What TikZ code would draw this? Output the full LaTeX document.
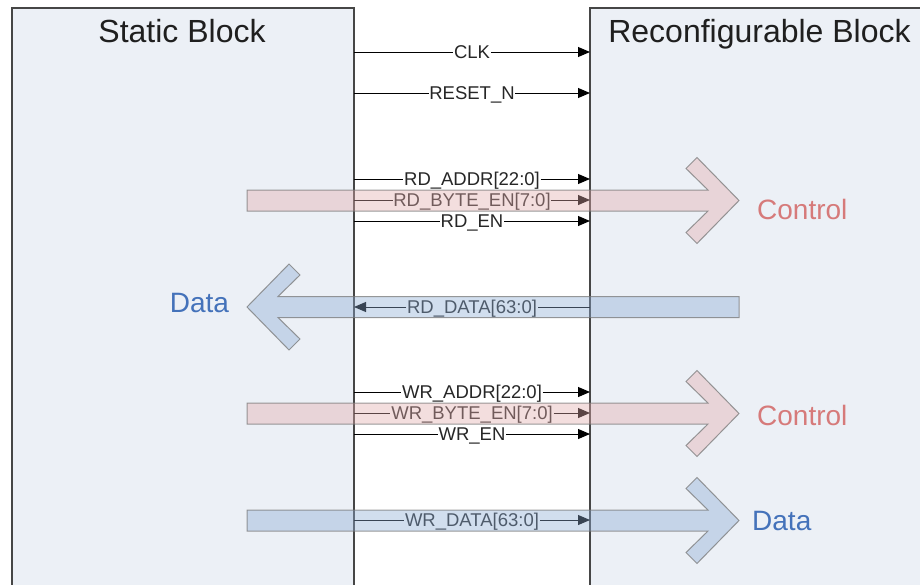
\documentclass[tikz,border=0pt]{standalone}
\usepackage{fontspec}
\setmainfont{Liberation Sans}
\usetikzlibrary{arrows.meta,calc}

\definecolor{blockfill}{RGB}{236,240,246}
\definecolor{blockline}{RGB}{70,70,70}
\definecolor{ctrlfill}{RGB}{226,172,172}
\definecolor{datafill}{RGB}{140,172,212}
\definecolor{ctrltext}{RGB}{214,122,122}
\definecolor{datatext}{RGB}{68,114,186}
\definecolor{bandline}{RGB}{120,120,120}

\begin{document}
\begin{tikzpicture}[x=1pt,y=-1pt,
  block/.style={fill=blockfill,draw=blockline,line width=1.3pt},
  title/.style={font=\fontsize{32}{36}\selectfont,text=black!88,inner sep=0pt},
  sig/.style={line width=1pt,draw=black},
  siglabel/.style={font=\fontsize{18.5}{20}\selectfont,inner sep=0.6pt,text=black!85},
  sigtip/.style={-{Triangle[length=12pt,width=10pt]}},
  band/.style={fill opacity=0.4,draw opacity=0.75,line width=1pt,draw=bandline},
  bandtext/.style={font=\fontsize{28}{30}\selectfont,inner sep=0pt}
]
\useasboundingbox (0,0) rectangle (920,584);
\clip (0,0) rectangle (920,584);

% the two blocks
\draw[block] (12,8) rectangle (354,620);
\draw[block] (590,8) rectangle (960,620);
\node[title,anchor=base] (stitle) at (182,42) {Static Block};
\node[title,anchor=base] (rtitle) at (759.5,42) {Reconfigurable Block};

% signals from the static block to the reconfigurable block
\foreach \id/\y/\txt in {clk/52/CLK, rst/93/RESET\_N,
    rdaddr/179/RD\_ADDR[22:0], rdbe/200/RD\_BYTE\_EN[7:0], rden/221/RD\_EN,
    wraddr/392/WR\_ADDR[22:0], wrbe/413/WR\_BYTE\_EN[7:0], wren/434/WR\_EN,
    wrdata/520/WR\_DATA[63:0]} {
  \coordinate (\id-s) at (354,\y);
  \coordinate (\id-r) at (590,\y);
  \node[siglabel,anchor=base] (\id) at (472,\y+6.8) {\txt};
  \draw[sig] (\id-s) -- (\id-s -| \id.west);
  \draw[sig,sigtip] (\id-r -| \id.east) -- (\id-r);
}

% read data returns to the static block
\coordinate (rddata-s) at (354,307);
\coordinate (rddata-r) at (590,307);
\node[siglabel,anchor=base] (rddata) at (472,313.8) {RD\_DATA[63:0]};
\draw[sig] (rddata-r) -- (rddata-r -| rddata.east);
\draw[sig,sigtip] (rddata-s -| rddata.west) -- (rddata-s);

% wide bus arrows, right-pointing: tip at (739, cy)
\foreach \cy/\col in {200.5/ctrlfill, 413.5/ctrlfill, 520.5/datafill} {
  \draw[band,fill=\col]
    (247,\cy-10.5) -- (708,\cy-10.5) -- (686,\cy-32) -- (697,\cy-43)
    -- (739,\cy) -- (697,\cy+43) -- (686,\cy+32) -- (708,\cy+10.5)
    -- (247,\cy+10.5) -- cycle;
}
% left-pointing read-data bus arrow
\draw[band,fill=datafill]
  (739,296.5) -- (278,296.5) -- (300,275) -- (289,264) -- (247,307)
  -- (289,350) -- (300,339) -- (278,317.5) -- (739,317.5) -- cycle;

% bus captions
\node[bandtext,text=ctrltext,anchor=base west] (ctrl1) at (757,219) {Control};
\node[bandtext,text=ctrltext,anchor=base west] (ctrl2) at (757,425) {Control};
\node[bandtext,text=datatext,anchor=base] (data1) at (199.5,312) {Data};
\node[bandtext,text=datatext,anchor=base west] (data2) at (752,530) {Data};
\end{tikzpicture}
\end{document}
